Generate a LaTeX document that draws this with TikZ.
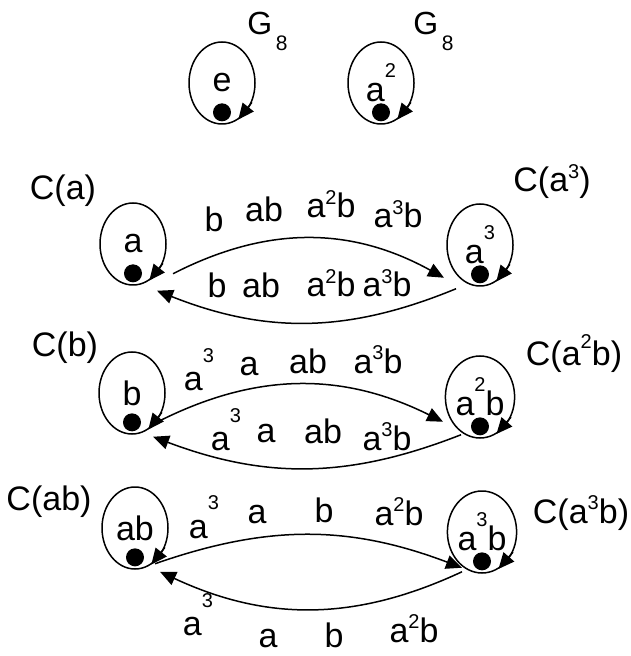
\documentclass[tikz,border=0pt]{standalone}
\usepackage{fontspec}
\setmainfont{Liberation Sans}
\usetikzlibrary{shapes.geometric,arrows.meta}

% raised exponent, #1 = how high it sits
\newcommand{\expo}[2][0.4em]{\raisebox{#1}{\fontsize{10}{10}\selectfont#2}}

\begin{document}
\begin{tikzpicture}[
        x=0.5pt, y=-0.5pt,
        every node/.style={font=\fontsize{17}{20}\selectfont},
        elem/.style={ellipse, draw, line width=0.75pt,
            minimum width=33pt, minimum height=41pt, inner sep=0pt},
        fix/.style={circle, fill=black, minimum size=9pt, inner sep=0pt},
        lbl/.style={anchor=base, inner sep=0pt},
        gname/.style={anchor=base west, inner sep=0pt,
            font=\fontsize{16}{18}\selectfont},
        tip/.style={-{Triangle[length=8pt,width=7pt]}, line width=0.75pt},
        arc/.style={tip, line width=0.75pt}
      ]
      \useasboundingbox (0,0) rectangle (630,656);

      % the two central elements
      \node[elem] (e)  at (222,83) {e};
      \node[elem] (a2) at (381,83) {a\expo[0.7em]{2}};
      \node[gname] (g1) at (247,35) {G\raisebox{-0.5em}{\fontsize{10.5}{11}\selectfont\,8}};
      \node[gname] (g2) at (413,35) {G\raisebox{-0.5em}{\fontsize{10.5}{11}\selectfont\,8}};

      % classes of size two
      \node[elem] (a)   at (133,244) {a};
      \node[elem] (a3)  at (480,245) {a\expo[0.7em]{3}};
      \node[elem] (b)   at (132,393) {b};
      \node[elem] (a2b) at (480,397) {a\expo[0.7em]{2}b};
      \node[elem] (ab)  at (135,528) {ab};
      \node[elem] (a3b) at (482,532) {a\expo[0.7em]{3}b};

      \node[lbl] (ca)   at (63,200)  {C(a)};
      \node[lbl] (ca3)  at (552,192) {C(a\expo{3})};
      \node[lbl] (cb)   at (65,357)  {C(b)};
      \node[lbl] (ca2b) at (574,365) {C(a\expo[0.5em]{2}b)};
      \node[lbl] (cab)  at (49,510)  {C(ab)};
      \node[lbl] (ca3b) at (581,523) {C(a\expo{3}b)};

      % fixed point and self loop on every element
      \foreach \n in {e,a2,a,a3,b,a2b,ab,a3b}{
          \node[fix, anchor=south] (\n-dot) at ([yshift=1.5pt]\n.south) {};
          \draw[tip] (\n.-33) -- (\n.-66);
        }

      % swaps between the two elements of a class
      \draw[arc] ([shift={(40,-12)}]a.south) to[bend left=28] ([shift={(-36,-9)}]a3.south);
      \draw[arc] ([shift={(-24,2)}]a3.south) to[bend left=22] ([shift={(24,5)}]a.south);
      \draw[arc] ([shift={(20,-10)}]b.south) to[bend left=27] ([shift={(-37,-17)}]a2b.south);
      \draw[arc] ([shift={(-19,-4)}]a2b.south) to[bend left=21] ([shift={(21,2)}]b.south);
      \draw[arc] ([shift={(20,-6)}]ab.south) to[bend left=20] ([shift={(-20,-6)}]a3b.south);
      \draw[arc] ([shift={(-20,-2)}]a3b.south) to[bend left=25] ([shift={(25,2)}]ab.south);

      \foreach \x/\y/\txt [count=\i] in {214/232/b, 264/222/ab,
            331/218/{a\expo{2}b}, 398/228/{a\expo{3}b},
            217/298/b, 261/298/ab, 331/297/{a\expo{2}b}, 387/297/{a\expo{3}b}}{
          \node[lbl] (la-\i) at (\x,\y) {\txt};
        }
      \foreach \x/\y/\txt [count=\i] in {199/390/{a\expo[0.8em]{3}}, 249/375/a,
            308/373/ab, 378/373/{a\expo{3}b},
            226/450/{a\expo[0.8em]{3}}, 266/442/a, 323/443/ab, 387/450/{a\expo{3}b}}{
          \node[lbl] (lb-\i) at (\x,\y) {\txt};
        }
      \foreach \x/\y/\txt [count=\i] in {204/538/{a\expo[0.85em]{3}}, 257/523/a,
            324/522/b, 399/525/{a\expo{2}b},
            198/635/{a\expo[0.8em]{3}}, 268/647/a, 334/647/b, 414/642/{a\expo{2}b}}{
          \node[lbl] (lc-\i) at (\x,\y) {\txt};
        }
    \end{tikzpicture}
\end{document}
